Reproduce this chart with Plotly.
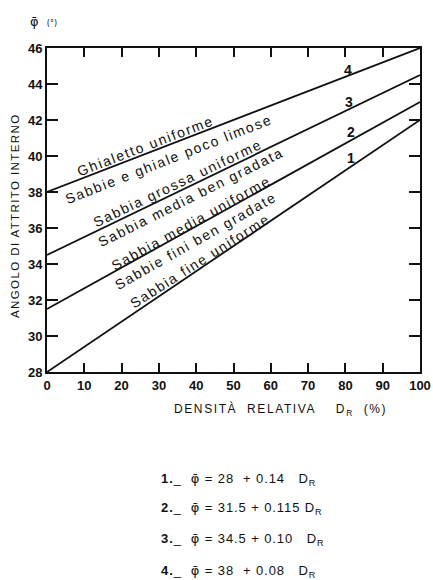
import plotly.graph_objects as go

# Relative density (%) and fitted friction-angle lines  phi = a + b * D_R
dr_range = [0, 100]
line_ids = ["1", "2", "3", "4"]
intercepts = [28, 31.5, 34.5, 38]
slope_text = ["0.14", "0.115", "0.10", "0.08"]
slopes = [float(s) for s in slope_text]

# Soil-type captions written along the lines: (text, x, y, angle)
captions = [
    ("Ghialetto uniforme", 26.3, 40.55, -21),
    ("Sabbie e ghiale poco limose", 32.7, 39.85, -21.5),
    ("Sabbia grossa uniforme", 35.1, 38.5, -25.5),
    ("Sabbia media ben gradata", 38.6, 37.75, -26.5),
    ("Sabbia media uniforme", 38.6, 36.3, -29),
    ("Sabbie fini ben gradate", 39.7, 35.3, -29.5),
    ("Sabbia fine uniforme", 41.0, 34.15, -32.5),
]
# Line number labels near the right end
number_pos = [(81.6, 39.9), (81.6, 41.35), (81.0, 43.0), (80.7, 44.8)]

W, H = 433, 580
ML, MR, MT, MB = 47, 13, 48, 208
PW, PH = W - ML - MR, H - MT - MB
FONT = "Liberation Sans, Arial, Helvetica, sans-serif"
INK = "#111111"
PHI = "<span style='font-family:DejaVu Sans'>φ̄</span>"


def px(x):
    return (x - ML) / PW


def py(y):
    return (H - MB - y) / PH


def spaced(text, ls):
    return f"<span style='letter-spacing:{ls}px'>{text}</span>"


fig = go.Figure()
for a, b in zip(intercepts, slopes):
    fig.add_trace(go.Scatter(
        x=dr_range,
        y=[a + b * d for d in dr_range],
        mode="lines",
        line=dict(color=INK, width=1.8),
        showlegend=False,
        hoverinfo="skip",
    ))

annotations = []
for text, x, y, ang in captions:
    annotations.append(dict(
        x=x, y=y, xref="x", yref="y", text=spaced(text, 1.7), textangle=ang,
        showarrow=False, xanchor="center", yanchor="middle",
        font=dict(family=FONT, size=14, color=INK),
    ))
for lid, (x, y) in zip(line_ids, number_pos):
    annotations.append(dict(
        x=x, y=y, xref="x", yref="y", text=lid, showarrow=False,
        xanchor="center", yanchor="middle",
        font=dict(family=FONT, size=14, color=INK, weight="bold"),
    ))

# Axis titles
annotations.append(dict(
    x=px(15), y=py(216), xref="paper", yref="paper",
    xanchor="center", yanchor="middle",
    text=spaced("ANGOLO DI ATTRITO INTERNO", 1.4), textangle=-90,
    showarrow=False, font=dict(family=FONT, size=11.5, color=INK),
))
annotations.append(dict(
    x=px(280), y=py(409), xref="paper", yref="paper",
    xanchor="center", yanchor="middle",
    text=spaced("DENSITÀ\u00a0 RELATIVA\u00a0\u00a0\u00a0 D<sub>R</sub>\u00a0 (%)", 1.6),
    showarrow=False, font=dict(family=FONT, size=12, color=INK),
))
annotations.append(dict(
    x=px(28), y=py(21), xref="paper", yref="paper",
    xanchor="left", yanchor="middle",
    text="φ̄\u00a0 <span style='font-size:8px'>(°)</span>",
    showarrow=False, font=dict(family="DejaVu Sans, sans-serif", size=13, color=INK),
))

# Equations below the chart, formatted from the same coefficients
eq_rows = [479, 509, 539, 571]
for lid, a, s, yrow in zip(line_ids, intercepts, slope_text, eq_rows):
    a_txt = f"{a:g}"
    sep = "\u00a0+\u00a0" if "." in a_txt else "\u00a0\u00a0+\u00a0"
    s_pad = "\u00a0\u00a0\u00a0" if len(s) < 5 else "\u00a0"
    txt = (f"<b>{lid}.</b>_\u00a0 {PHI} = {a_txt}{sep}{s}{s_pad}D<sub>R</sub>")
    annotations.append(dict(
        x=px(159), y=py(yrow), xref="paper", yref="paper",
        xanchor="left", yanchor="middle",
        text=spaced(txt, 0.9), showarrow=False,
        font=dict(family=FONT, size=13, color=INK),
    ))

axis_common = dict(
    showline=True, linecolor=INK, linewidth=2, mirror="ticks",
    ticks="inside", tickcolor=INK, tickwidth=1.6,
    showgrid=False, zeroline=False, automargin=False,
    tickfont=dict(family=FONT, size=13, color=INK, weight="bold"),
    fixedrange=True,
)

fig.update_layout(
    width=W, height=H, autosize=False,
    margin=dict(l=ML, r=MR, t=MT, b=MB, pad=0, autoexpand=False),
    paper_bgcolor="white", plot_bgcolor="white",
    xaxis=dict(range=[0, 100], dtick=10, tick0=0, ticklen=9, **axis_common),
    yaxis=dict(range=[28, 46], dtick=2, tick0=28, ticklen=11, **axis_common),
    annotations=annotations,
    showlegend=False,
)

fig.write_html("out.html")
